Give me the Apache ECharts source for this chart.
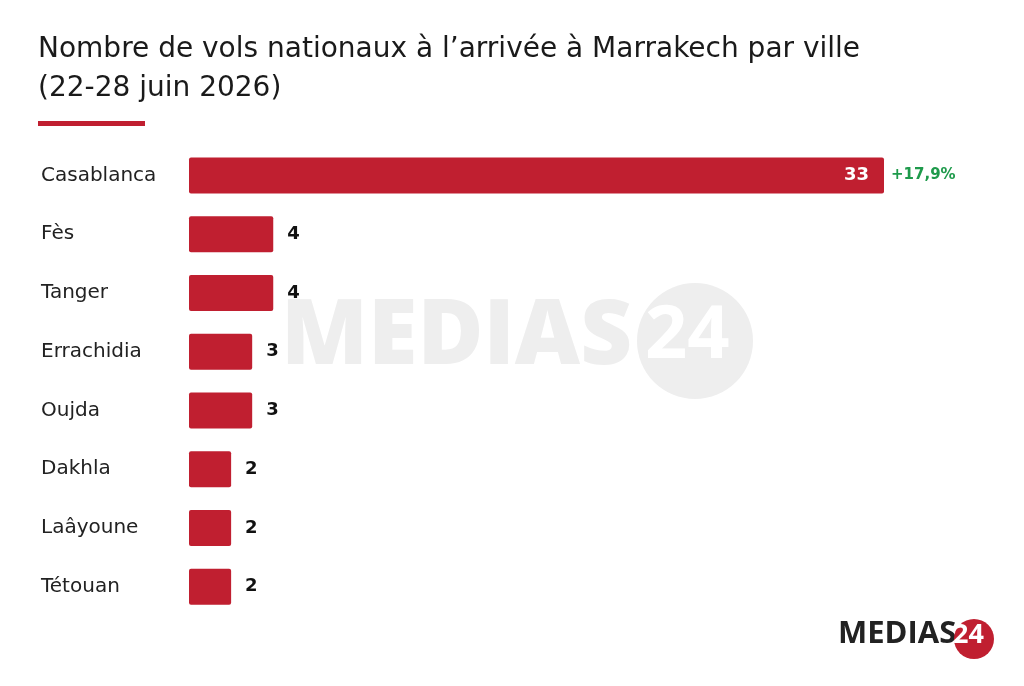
<!DOCTYPE html>
<html><head><meta charset="utf-8">
<script src="https://cdn.jsdelivr.net/npm/echarts@6/dist/echarts.min.js"></script>
<style>html,body{margin:0;padding:0;background:#fff}#c{width:1024px;height:686px}</style>
</head><body><div id="c"></div>
<script>
var categories = ['Casablanca','Fès','Tanger','Errachidia','Oujda','Dakhla','Laâyoune','Tétouan'];
var values = [33,4,4,3,3,2,2,2];
var changeLabels = ['+17,9%','','','','','','',''];
var FONT = '"DejaVu Sans", "Noto Sans", sans-serif';
var chart = echarts.init(document.getElementById('c'));
var data = values.map(function(v,i){
  var inside = i === 0;
  return {
    value: v,
    label: inside ? {show:true, position:'insideRight', color:'#fff', distance:15} : {show:true, position:'right', color:'#111', distance:14}
  };
});
chart.setOption({
  animation:false,
  title:{
    text:'Nombre de vols nationaux à l’arrivée à Marrakech par ville\n(22-28 juin 2026)',
    left:33, top:25,
    textStyle:{fontFamily:FONT, fontSize:28, fontWeight:'normal', color:'#1a1a1a', lineHeight:39}
  },
  graphic:[
    {type:'rect', left:38, top:121, shape:{width:107,height:5}, style:{fill:'#c01f30'}},
    {type:'text', left:281, top:293, z:-10, style:{text:'MEDIAS', font:'800 90px "Open Sans", sans-serif', fill:'#eeeeee'}},
    {type:'circle', z:-10, shape:{cx:695,cy:341,r:58}, style:{fill:'#eeeeee'}},
    {type:'text', z:-9, left:645, top:300, style:{text:'24', font:'bold 74px "Open Sans", sans-serif', fill:'#ffffff'}},
    {type:'text', left:838, top:619, style:{text:'MEDIAS', font:'bold 31px "Open Sans", sans-serif', fill:'#222222'}},
    {type:'circle', shape:{cx:974,cy:639,r:20}, style:{fill:'#c01f30'}},
    {type:'text', left:953, top:622, style:{text:'24', font:'bold 27px "Open Sans", sans-serif', fill:'#ffffff'}}
  ],
  grid:{left:189, top:146, width:695, height:470, containLabel:false},
  xAxis:{type:'value', min:0, max:33, show:false},
  yAxis:{
    type:'category', data:categories, inverse:true,
    axisLine:{show:false}, axisTick:{show:false}, splitLine:{show:false},
    axisLabel:{align:'left', margin:148, fontFamily:FONT, fontSize:20, color:'#222', padding:[4,0,0,0]}
  },
  series:[
    {type:'bar', data:data, barWidth:36, itemStyle:{color:'#c01f30', borderRadius:2},
     label:{fontFamily:FONT, fontSize:18, fontWeight:'bold'}, z:2},
    {type:'bar', data:values.map(function(v){return v;}), barWidth:36, barGap:'-100%',
     itemStyle:{color:'transparent'}, silent:true, z:1,
     label:{show:true, position:'right', distance:7, fontFamily:FONT, fontSize:15, fontWeight:'bold', color:'#1e9a4b',
       formatter:function(p){return changeLabels[p.dataIndex];}}}
  ]
});
</script></body></html>
